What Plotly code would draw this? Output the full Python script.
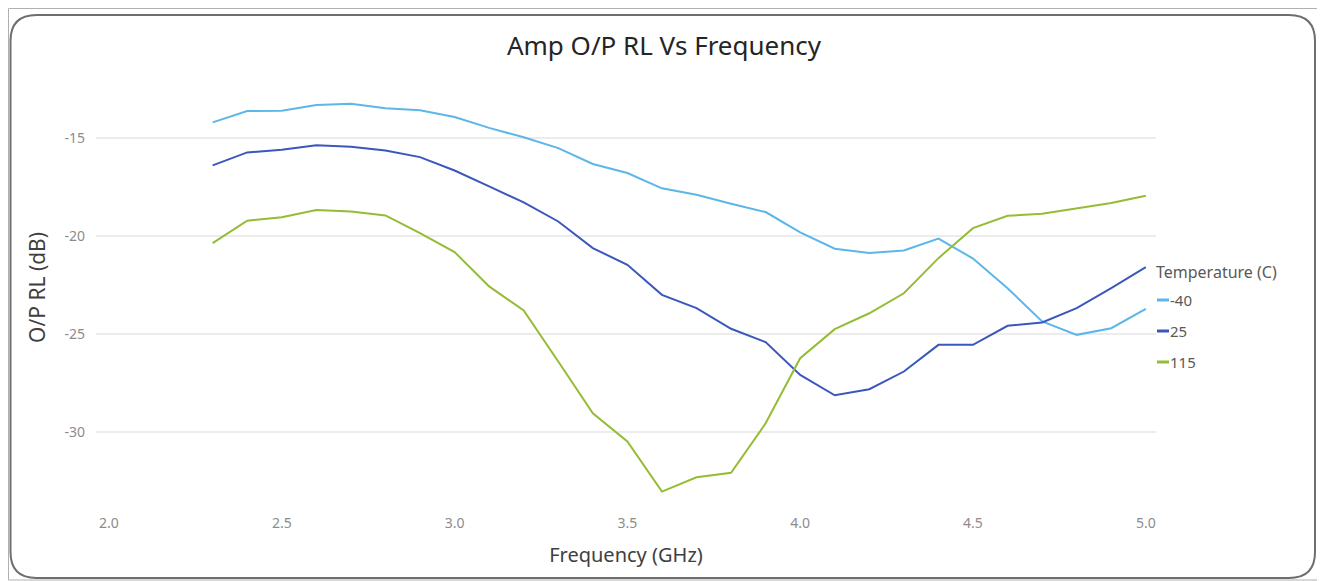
import plotly.graph_objects as go

# ---- data ----
freq_ghz = [2.3, 2.4, 2.5, 2.6, 2.7, 2.8, 2.9, 3.0, 3.1, 3.2, 3.3, 3.4, 3.5, 3.6,
            3.7, 3.8, 3.9, 4.0, 4.1, 4.2, 4.3, 4.4, 4.5, 4.6, 4.7, 4.8, 4.9, 5.0]
rl_m40 = [-14.22, -13.64, -13.62, -13.33, -13.27, -13.50, -13.60, -13.94, -14.50, -14.98,
          -15.53, -16.34, -16.80, -17.58, -17.91, -18.37, -18.79, -19.83, -20.66, -20.88,
          -20.75, -20.14, -21.16, -22.67, -24.37, -25.05, -24.71, -23.72]
rl_25 = [-16.41, -15.75, -15.61, -15.39, -15.46, -15.65, -15.99, -16.67, -17.48, -18.30,
         -19.27, -20.63, -21.48, -23.01, -23.69, -24.74, -25.42, -27.09, -28.13, -27.82,
         -26.92, -25.56, -25.56, -24.59, -24.42, -23.69, -22.67, -21.60]
rl_115 = [-20.37, -19.23, -19.05, -18.69, -18.76, -18.96, -19.86, -20.83, -22.58, -23.81,
          -26.41, -29.05, -30.49, -33.04, -32.31, -32.08, -29.56, -26.24, -24.76, -23.95,
          -22.93, -21.14, -19.61, -18.98, -18.88, -18.59, -18.33, -17.96]
series_names = ["-40", "25", "115"]
series_values = [rl_m40, rl_25, rl_115]
series_colors = ["#5CB6E9", "#3A58BC", "#94BC35"]
x_ticks = [2.0, 2.5, 3.0, 3.5, 4.0, 4.5, 5.0]
y_ticks = [-15, -20, -25, -30]

OFF = 8  # page body margin
W, H = 1325 - OFF, 581 - OFF
L, R, T, B = 88, 169, 85, 71
PW, PH = W - L - R, H - T - B

FONT = "Noto Sans"

def px(x):
    # page pixel -> paper x
    return (x - OFF - L) / PW

def py(y):
    # page pixel -> paper y
    return (H - B - (y - OFF)) / PH

fig = go.Figure()
for name, vals, col in zip(series_names, series_values, series_colors):
    fig.add_trace(go.Scatter(x=freq_ghz, y=vals, mode="lines", name=name,
                             line=dict(color=col, width=2), showlegend=False))

shapes = []
annotations = []
# outer thin frame
shapes.append(dict(type="rect", xref="paper", yref="paper",
                   x0=px(8.5), x1=px(1323.5), y0=py(8.5), y1=py(580),
                   line=dict(color="#b0b0b0", width=1)))
# rounded frame
x0, x1, y0, y1, r = 10.5, 1315, 15, 578, 26
path = (f"M {px(x0 + r)},{py(y0)} L {px(x1 - r)},{py(y0)} "
        f"Q {px(x1)},{py(y0)} {px(x1)},{py(y0 + r)} "
        f"L {px(x1)},{py(y1 - r)} Q {px(x1)},{py(y1)} {px(x1 - r)},{py(y1)} "
        f"L {px(x0 + r)},{py(y1)} Q {px(x0)},{py(y1)} {px(x0)},{py(y1 - r)} "
        f"L {px(x0)},{py(y0 + r)} Q {px(x0)},{py(y0)} {px(x0 + r)},{py(y0)} Z")
shapes.append(dict(type="path", xref="paper", yref="paper", path=path,
                   line=dict(color="#6e6e6e", width=2)))

# y-axis title
annotations.append(dict(xref="paper", yref="paper", x=px(37), y=py(288),
                        text="O/P RL (dB)", showarrow=False, textangle=-90,
                        xanchor="center", yanchor="middle",
                        font=dict(family=FONT, size=21, color="#404040")))

# manual legend
annotations.append(dict(xref="paper", yref="paper", x=px(1154), y=py(272),
                        text="Temperature (C)", showarrow=False, xanchor="left",
                        yanchor="middle", font=dict(family=FONT, size=16, color="#595959")))
leg_y = [300, 331, 362]
for name, col, yy in zip(series_names, series_colors, leg_y):
    shapes.append(dict(type="line", xref="paper", yref="paper",
                       x0=px(1157), x1=px(1169), y0=py(yy), y1=py(yy),
                       line=dict(color=col, width=3)))
    annotations.append(dict(xref="paper", yref="paper", x=px(1168), y=py(yy),
                            text=name, showarrow=False, xanchor="left", yanchor="middle",
                            font=dict(family=FONT, size=15, color="#595959")))

fig.update_layout(
    width=W, height=H,
    margin=dict(l=L, r=R, t=T, b=B),
    paper_bgcolor="white", plot_bgcolor="white",
    title=dict(text="Amp O/P RL Vs Frequency", x=(664 - OFF) / W, xref="container",
               xanchor="center", y=1 - (46 - OFF) / H, yref="container", yanchor="middle",
               font=dict(family=FONT, size=26, color="#252525")),
    font=dict(family=FONT),
    shapes=shapes, annotations=annotations,
    showlegend=False,
)
fig.update_xaxes(range=[1.9625, 5.0295], tickvals=x_ticks,
                 ticktext=[f"{v:.1f}" for v in x_ticks],
                 showgrid=False, zeroline=False, showline=False,
                 tickfont=dict(family=FONT, size=14, color="#8c8c8c"),
                 ticklabelstandoff=3,
                 title=dict(text="Frequency (GHz)", standoff=16,
                            font=dict(family=FONT, size=20, color="#404040")))
fig.update_yaxes(range=[-33.98, -12.72], tickvals=y_ticks,
                 ticktext=[str(v) for v in y_ticks],
                 showgrid=True, gridcolor="#ececec", gridwidth=1.5,
                 zeroline=False, showline=False,
                 tickfont=dict(family=FONT, size=14, color="#8c8c8c"),
                 ticklabelstandoff=10)

fig.write_html("out.html")
